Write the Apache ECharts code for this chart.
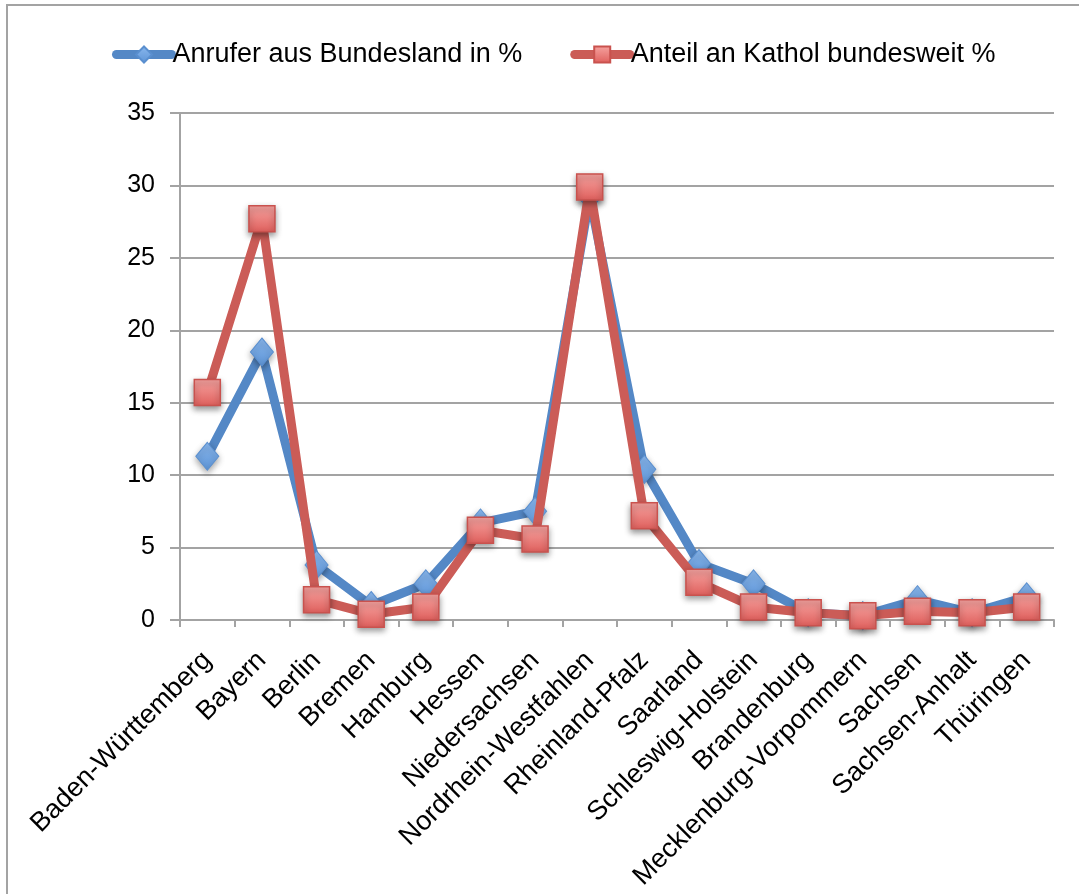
<!DOCTYPE html>
<html>
<head>
<meta charset="utf-8">
<script src="https://cdn.jsdelivr.net/npm/echarts@6/dist/echarts.min.js"></script>
<style>
html,body{margin:0;padding:0;background:#fff;}
#chart{width:1079px;height:894px;}
</style>
</head>
<body>
<div id="chart"></div>
<script>
const categories = ["Baden-Württemberg","Bayern","Berlin","Bremen","Hamburg","Hessen","Niedersachsen","Nordrhein-Westfahlen","Rheinland-Pfalz","Saarland","Schleswig-Holstein","Brandenburg","Mecklenburg-Vorpommern","Sachsen","Sachsen-Anhalt","Thüringen"];
const anruferValues = [11.3,18.5,3.8,1.0,2.5,6.7,7.5,29.2,10.4,3.9,2.5,0.5,0.3,1.4,0.5,1.6];
const katholValues = [15.7,27.7,1.4,0.4,0.9,6.2,5.6,29.9,7.2,2.6,0.9,0.5,0.3,0.6,0.5,0.9];
const seriesNames = ["Anrufer aus Bundesland in %","Anteil an Kathol bundesweit %"];
const yTicks = {min:0,max:35,interval:5};

const FONT = '"Liberation Sans", Arial, sans-serif';
const chart = echarts.init(document.getElementById('chart'));
chart.setOption({
  backgroundColor:'#fff',
  animation:false,
  graphic:[{type:'rect',shape:{x:7,y:5,width:1100,height:920},style:{fill:'none',stroke:'#a3a3a3',lineWidth:2},z:-1}],
  legend:{
    left:107, top:36, itemWidth:55, itemHeight:20, itemGap:48,
    textStyle:{fontFamily:FONT,fontSize:27,color:'#000',padding:[0,0,0,-4]},
    lineStyle:{width:9,cap:'round'},
    data:seriesNames
  },
  grid:{left:180,right:25,top:113,bottom:274,containLabel:false},
  xAxis:{
    type:'category', data:categories, boundaryGap:true,
    axisLine:{lineStyle:{color:'#a3a3a3',width:2}},
    axisTick:{show:true,length:7,lineStyle:{color:'#a3a3a3',width:2}},
    axisLabel:{rotate:45,margin:36,interval:0,fontFamily:FONT,fontSize:27,color:'#000'},
    splitLine:{show:false}
  },
  yAxis:{
    type:'value', min:yTicks.min, max:yTicks.max, interval:yTicks.interval,
    axisLine:{show:true,lineStyle:{color:'#a3a3a3',width:2}},
    axisTick:{show:true,length:10,lineStyle:{color:'#a3a3a3',width:2}},
    axisLabel:{margin:25,fontFamily:FONT,fontSize:25,color:'#000'},
    splitLine:{lineStyle:{color:'#a3a3a3',width:2}}
  },
  series:[
    {
      name:seriesNames[0], type:'line', data:anruferValues,
      symbol:'diamond', symbolSize:[23,28], z:2,
      lineStyle:{color:'#5488c6',width:9},
      itemStyle:{
        color:new echarts.graphic.LinearGradient(0,0,0,1,[{offset:0,color:'#8ab8ee'},{offset:1,color:'#5d94d6'}]),
        borderColor:'#5a8fcf',borderWidth:1,
        shadowBlur:6,shadowOffsetY:3,shadowColor:'rgba(0,0,0,0.35)'
      }
    },
    {
      name:seriesNames[1], type:'line', data:katholValues,
      symbol:'rect', symbolSize:26, z:3,
      lineStyle:{color:'#cb5c57',width:9},
      itemStyle:{
        color:new echarts.graphic.LinearGradient(0,0,0,1,[{offset:0,color:'#f6a4a1'},{offset:1,color:'#df5f5c'}]),
        borderColor:'#c9524e',borderWidth:1.5,
        shadowBlur:6,shadowOffsetY:3,shadowColor:'rgba(0,0,0,0.4)'
      }
    }
  ]
});
</script>
</body>
</html>
